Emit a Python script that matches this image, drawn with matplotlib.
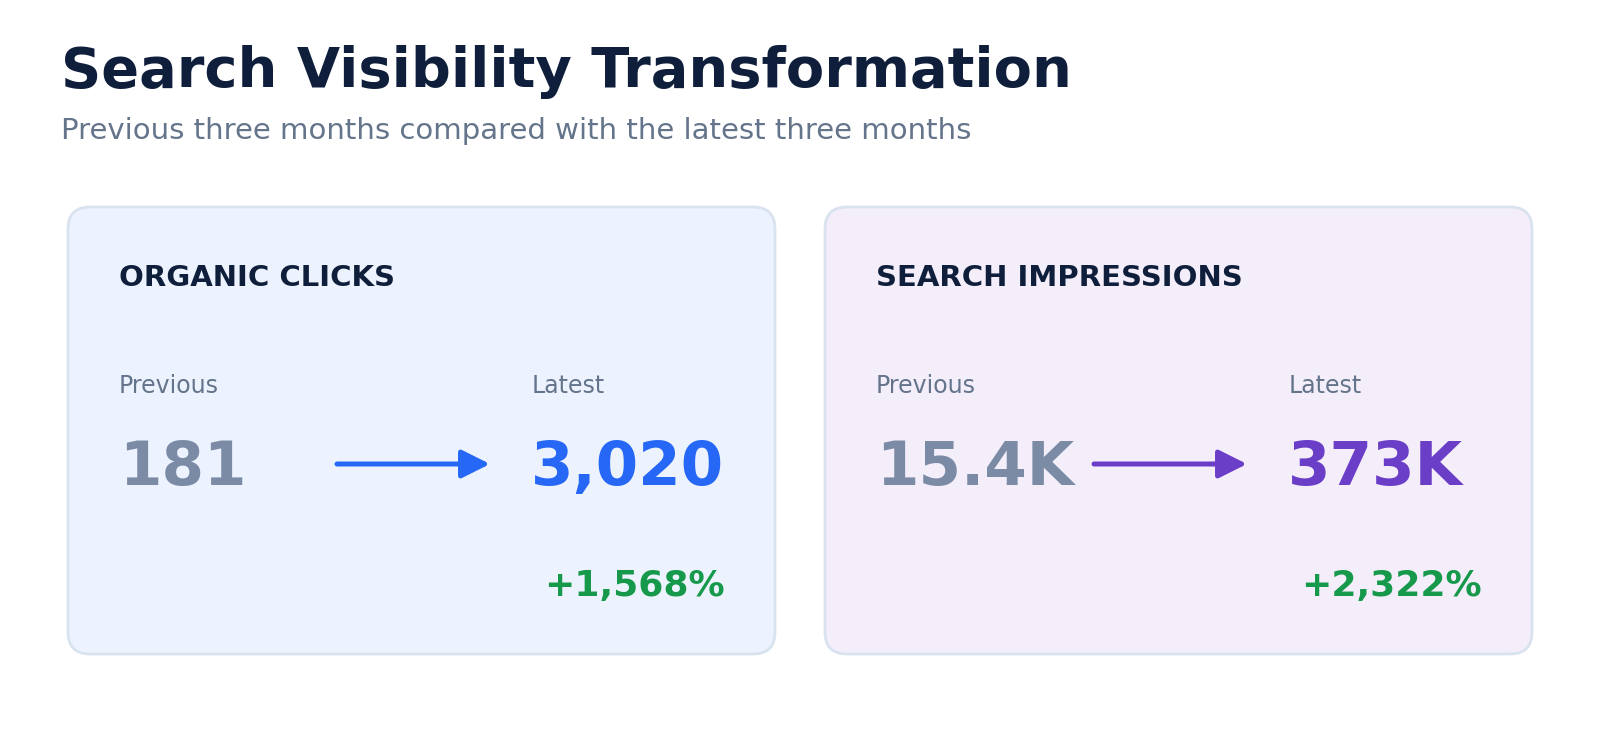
import matplotlib
matplotlib.use("Agg")
import matplotlib.pyplot as plt
from matplotlib.patches import FancyBboxPatch, FancyArrowPatch

plt.rcParams["font.family"] = ["DejaVu Sans"]

# data
metrics = ["ORGANIC CLICKS", "SEARCH IMPRESSIONS"]
previous_values = ["181", "15.4K"]
latest_values = ["3,020", "373K"]
changes = ["+1,568%", "+2,322%"]

accents = ["#2667f6", "#6b3ec8"]
card_fills = ["#edf3fe", "#f4eefb"]

NAVY = "#0f1f3b"
SLATE = "#64748b"
MUTED = "#7b8ba5"
GREEN = "#16994b"

W, H = 1600, 753
fig = plt.figure(figsize=(W / 100, H / 100), dpi=100)
ax = fig.add_axes([0, 0, 1, 1])
ax.set_xlim(0, W)
ax.set_ylim(H, 0)
ax.axis("off")

ax.text(61, 87, "Search Visibility Transformation", fontsize=40.2,
        fontweight="bold", color=NAVY, va="baseline")
ax.text(61, 139, "Previous three months compared with the latest three months",
        fontsize=21, color=SLATE, va="baseline")

card_w, card_h, card_y = 707, 447, 207
for i, metric in enumerate(metrics):
    x0 = 68 + i * 757
    ax.add_patch(FancyBboxPatch((x0, card_y), card_w, card_h,
                                boxstyle="round,pad=0,rounding_size=22",
                                facecolor=card_fills[i], edgecolor="#d9e2ef", lw=2))
    ax.text(x0 + 51, 286, metric, fontsize=21, fontweight="bold", color=NAVY,
            va="baseline")
    ax.text(x0 + 51, 393, "Previous", fontsize=17, color=SLATE, va="baseline")
    ax.text(x0 + 464, 393, "Latest", fontsize=17, color=SLATE, va="baseline")
    ax.text(x0 + 51, 485, previous_values[i], fontsize=44, fontweight="bold",
            color=MUTED, va="baseline")
    ax.text(x0 + 463, 485, latest_values[i], fontsize=44, fontweight="bold",
            color=accents[i], va="baseline")
    ax.add_patch(FancyArrowPatch((x0 + 269, 464), (x0 + 422, 464),
                                 arrowstyle="-|>,head_length=0.4,head_width=0.2",
                                 mutation_scale=43, lw=3.6, color=accents[i],
                                 capstyle="round", joinstyle="round",
                                 shrinkA=0, shrinkB=0))
    ax.text(x0 + 657, 596, changes[i], fontsize=26, fontweight="bold",
            color=GREEN, ha="right", va="baseline")

fig.savefig("out.png", dpi=100, facecolor="white")
